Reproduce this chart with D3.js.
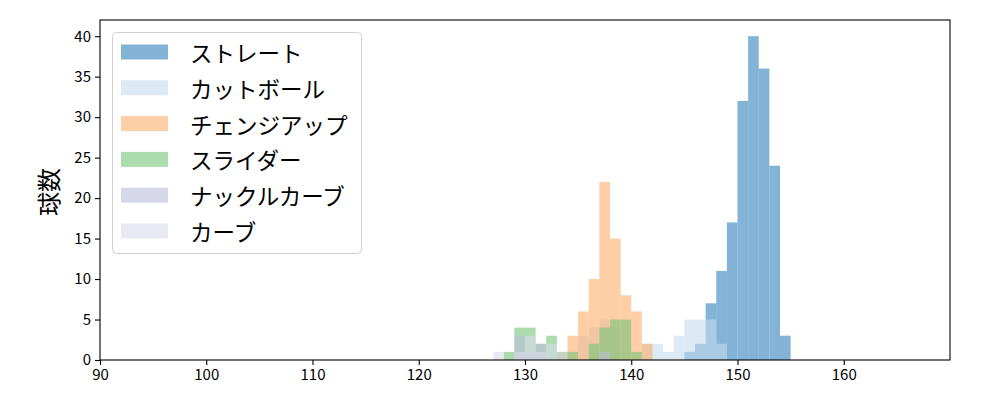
<!DOCTYPE html>
<html><head><meta charset="utf-8">
<script src="https://cdn.jsdelivr.net/npm/d3@7"></script>
<style>body{margin:0;background:#fff}svg{display:block}</style>
</head><body>
<svg id="c" width="1000" height="400"></svg>
<script>
// bin start values (bins are 1 km/h wide)
const binStarts = [127,128,129,130,131,132,133,134,135,136,137,138,139,140,141,142,143,144,145,146,147,148,149,150,151,152,153,154];
const seriesNames = ["ストレート","カットボール","チェンジアップ","スライダー","ナックルカーブ","カーブ"];
const straight = [0,0,0,0,0,0,0,0,0,0,0,0,0,0,0,0,0,0,1,2,7,11,17,32,40,36,24,3];
const cutBall  = [0,0,0,0,0,0,0,0,3,4,5,4,0,0,2,2,1,3,5,5,5,2,0,0,0,0,0,0];
const changeup = [0,0,0,0,0,0,1,3,6,10,22,15,8,6,2,0,0,0,0,0,0,0,0,0,0,0,0,0];
const slider   = [0,1,4,4,2,3,1,1,0,2,4,5,5,1,0,0,0,0,0,0,0,0,0,0,0,0,0,0];
const knuckle  = [0,0,3,1,2,0,0,0,0,0,1,0,0,0,0,0,0,0,0,0,0,0,0,0,0,0,0,0];
const curve    = [1,0,1,3,1,2,1,0,0,0,0,0,0,0,0,0,0,0,0,0,0,0,0,0,0,0,0,0];
const colors = ["#3182bd","#c6dbef","#fdae6b","#74c476","#bcbddc","#dadaeb"];
const xTicks = [90,100,110,120,130,140,150,160];
const yTicks = [0,5,10,15,20,25,30,35,40];
const yLabel = "球数";

const allSeries = [straight,cutBall,changeup,slider,knuckle,curve];
const svg = d3.select("#c");
const L=100,R=950,T=20,B=360;
const x = d3.scaleLinear().domain([90,170]).range([L,R]);
const y = d3.scaleLinear().domain([0,42]).range([B,T]);
const font = "'Noto Sans CJK JP','Noto Sans',sans-serif";

allSeries.forEach((vals,si)=>{
  svg.append("g").selectAll("rect").data(vals.map((v,i)=>({s:binStarts[i],v})).filter(d=>d.v>0))
    .join("rect")
    .attr("x",d=>x(d.s)).attr("width",d=>x(d.s+1)-x(d.s))
    .attr("y",d=>y(d.v)).attr("height",d=>y(0)-y(d.v))
    .attr("fill",colors[si]).attr("fill-opacity",0.6);
});

const xAxis = svg.append("g").attr("transform",`translate(0,${B})`)
  .call(d3.axisBottom(x).tickValues(xTicks).tickSize(5).tickPadding(4).tickFormat(d3.format("d")));
const yAxis = svg.append("g").attr("transform",`translate(${L},0)`)
  .call(d3.axisLeft(y).tickValues(yTicks).tickSize(5).tickPadding(4).tickFormat(d3.format("d")));
[xAxis,yAxis].forEach(a=>{
  a.select(".domain").remove();
  a.selectAll(".tick line").attr("stroke","#000").attr("stroke-width",1.1);
  a.selectAll(".tick text").attr("fill","#000").style("font-family",font).style("font-size","15px");
});
svg.append("rect").attr("x",L).attr("y",T).attr("width",R-L).attr("height",B-T)
  .attr("fill","none").attr("stroke","#000").attr("stroke-width",1.1);

svg.append("text").attr("transform",`translate(47,${(T+B)/2+2}) rotate(-90)`)
  .attr("text-anchor","middle").attr("dominant-baseline","central")
  .style("font-family",font).style("font-size","24px").text(yLabel);

const lg = svg.append("g");
lg.append("rect").attr("x",112.5).attr("y",32.5).attr("width",249).attr("height",221).attr("rx",4)
  .attr("fill","#fff").attr("fill-opacity",0.8).attr("stroke","#d0d0d0");
seriesNames.forEach((n,i)=>{
  const cy = 52 + i*35.8;
  lg.append("rect").attr("x",121).attr("y",cy-7.5).attr("width",47).attr("height",15)
    .attr("fill",colors[i]).attr("fill-opacity",0.6);
  lg.append("text").attr("x",190).attr("y",cy).attr("dominant-baseline","central")
    .style("font-family",font).style("font-size","22.5px").attr("fill","#000").text(n);
});
</script>
</body></html>
